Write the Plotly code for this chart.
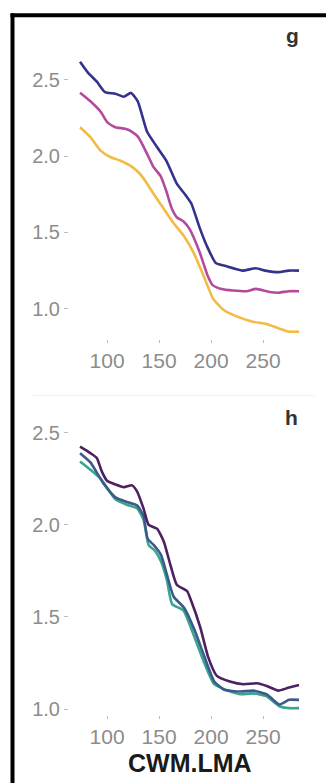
import plotly.graph_objects as go

W, H = 326, 783

# ---- data ----
g_navy_x = [74, 82, 90, 98, 108, 116, 123, 129.5, 138.5, 148, 157, 167, 176, 181, 188.5, 196, 204.5, 214, 230, 243, 252, 265, 274.5, 284.5]
g_navy_y = [2.62, 2.545, 2.49, 2.42, 2.41, 2.39, 2.415, 2.36, 2.16, 2.06, 1.97, 1.82, 1.74, 1.69, 1.54, 1.41, 1.30, 1.28, 1.25, 1.265, 1.25, 1.24, 1.25, 1.25]

g_mag_x = [74, 84, 94, 100.5, 108, 117.5, 124, 130, 138.5, 144.5, 151.5, 157, 162, 167, 173, 179.5, 189, 196.5, 201.5, 210, 221, 234, 243, 256, 265, 274.5, 284.5]
g_mag_y = [2.416, 2.36, 2.29, 2.22, 2.19, 2.18, 2.16, 2.125, 2.015, 1.93, 1.87, 1.77, 1.66, 1.60, 1.575, 1.52, 1.37, 1.22, 1.155, 1.13, 1.12, 1.115, 1.13, 1.11, 1.105, 1.115, 1.115]

g_yel_x = [74, 84, 94, 103, 113, 124, 131.5, 138.5, 144.5, 152, 164, 173.5, 183, 192.5, 202, 211.5, 224.5, 240, 253, 265.5, 275, 284.5]
g_yel_y = [2.19, 2.125, 2.035, 1.995, 1.97, 1.93, 1.885, 1.82, 1.755, 1.68, 1.56, 1.48, 1.37, 1.22, 1.065, 0.995, 0.95, 0.915, 0.90, 0.87, 0.85, 0.85]

h_pur_x = [74, 84, 90, 95, 100, 108, 116, 124, 129, 135, 140, 148, 154.5, 161, 167, 177, 180, 189.5, 197, 205.5, 218, 231, 244, 253.5, 264.5, 274, 284.5]
h_pur_y = [2.425, 2.39, 2.365, 2.29, 2.24, 2.22, 2.205, 2.215, 2.18, 2.09, 2.0, 1.98, 1.91, 1.78, 1.675, 1.64, 1.60, 1.445, 1.285, 1.18, 1.15, 1.135, 1.14, 1.125, 1.10, 1.115, 1.13]

h_sla_x = [74, 84, 96, 108, 119, 129, 135, 139, 145, 152, 157.5, 164, 174, 184, 193.5, 203, 212.5, 228, 240.5, 253.5, 265.5, 275, 284.5]
h_sla_y = [2.39, 2.34, 2.23, 2.15, 2.125, 2.105, 2.05, 1.925, 1.89, 1.835, 1.73, 1.61, 1.55, 1.43, 1.285, 1.15, 1.105, 1.095, 1.10, 1.08, 1.025, 1.05, 1.05]

h_tea_x = [74, 84, 94, 108, 119, 129, 135, 140, 146, 152, 157.5, 162.5, 173.5, 184, 193.5, 203, 216, 228, 240, 253, 265.5, 275, 284.5]
h_tea_y = [2.345, 2.30, 2.25, 2.14, 2.11, 2.09, 2.03, 1.89, 1.86, 1.80, 1.70, 1.57, 1.535, 1.39, 1.25, 1.135, 1.10, 1.08, 1.085, 1.07, 1.015, 1.005, 1.005]

x_ticks = [100, 150, 200, 250]
y_ticks = [1.0, 1.5, 2.0, 2.5]
y_ticklabels = ["1.0", "1.5", "2.0", "2.5"]
panel_labels = ["g", "h"]
x_title = "CWM.LMA"

# ---- layout helpers (pixel -> paper) ----
def px(x):
    return x / W

def py(y):
    return 1 - y / H

FONT = "Liberation Sans, Arial, sans-serif"
TICKC = "#8c8c8c"

fig = go.Figure()

def add_line(x, y, color, xa, ya):
    fig.add_trace(go.Scatter(x=x, y=y, mode="lines", xaxis=xa, yaxis=ya,
                             line=dict(color=color, width=2.6, shape="spline", smoothing=0.5),
                             hoverinfo="skip", showlegend=False))

add_line(g_yel_x, g_yel_y, "#f2bb45", "x", "y")
add_line(g_mag_x, g_mag_y, "#b44a9e", "x", "y")
add_line(g_navy_x, g_navy_y, "#33338c", "x", "y")

add_line(h_tea_x, h_tea_y, "#38a58e", "x2", "y2")
add_line(h_sla_x, h_sla_y, "#3d5a8c", "x2", "y2")
add_line(h_pur_x, h_pur_y, "#4d2161", "x2", "y2")

xdom = [px(69), px(311)]
xrng = [63.4, 296]
common_x = dict(domain=xdom, range=xrng, tickvals=x_ticks, showgrid=False, zeroline=False,
                showline=False, ticks="outside", ticklen=3, tickwidth=1, tickcolor="#bbbbbb",
                tickfont=dict(family=FONT, size=21, color=TICKC))
common_y = dict(showgrid=False, zeroline=False, showline=False, ticks="outside", ticklen=4,
                tickwidth=1, tickcolor="#bbbbbb", tickvals=y_ticks, ticktext=y_ticklabels,
                tickfont=dict(family=FONT, size=20, color=TICKC))

# g: value v at pixel 75 + (2.5 - v) * 154.7 ; h: 433 + (2.5 - v) * 186.7
g_top, g_bot = 42, 338
h_top, h_bot = 428, 719
fig.update_layout(
    width=W, height=H, margin=dict(l=0, r=0, t=0, b=0),
    paper_bgcolor="white", plot_bgcolor="white",
    xaxis=dict(anchor="y", **common_x),
    yaxis=dict(anchor="x", domain=[py(g_bot), py(g_top)],
               range=[2.5 - (g_bot - 75) / 154.7, 2.5 - (g_top - 75) / 154.7], **common_y),
    xaxis2=dict(anchor="y2", **common_x),
    yaxis2=dict(anchor="x2", domain=[py(h_bot), py(h_top)],
                range=[2.5 - (h_bot - 433) / 186.7, 2.5 - (h_top - 433) / 186.7], **common_y),
)

# panel labels
fig.add_annotation(text="<b>%s</b>" % panel_labels[0], x=px(292), y=py(30), xref="paper", yref="paper",
                   xanchor="center", yanchor="middle", showarrow=False,
                   font=dict(family=FONT, size=21, color="#333333"))
fig.add_annotation(text="<b>%s</b>" % panel_labels[1], x=px(291), y=py(417), xref="paper", yref="paper",
                   xanchor="center", yanchor="middle", showarrow=False,
                   font=dict(family=FONT, size=21, color="#333333"))
# x title
fig.add_annotation(text="<b>%s</b>" % x_title, x=px(190), y=py(768), xref="paper", yref="paper",
                   xanchor="center", yanchor="middle", showarrow=False,
                   font=dict(family=FONT, size=25, color="#1a1a1a"))

# frame (left and top edges) and faint separator
fig.add_shape(type="line", xref="paper", yref="paper", x0=px(12.5), x1=px(12.5), y0=py(795), y1=py(7.5),
              line=dict(color="black", width=4))
fig.add_shape(type="line", xref="paper", yref="paper", x0=px(10.5), x1=px(340), y0=py(9.5), y1=py(9.5),
              line=dict(color="black", width=4))
fig.add_shape(type="line", xref="paper", yref="paper", x0=px(33), x1=px(315), y0=py(395), y1=py(395),
              line=dict(color="#f0f0f0", width=1))

fig.write_html("out.html", config={"displayModeBar": False},
               post_script="document.body.style.margin='0';document.body.style.padding='0';document.body.style.overflow='hidden';")
